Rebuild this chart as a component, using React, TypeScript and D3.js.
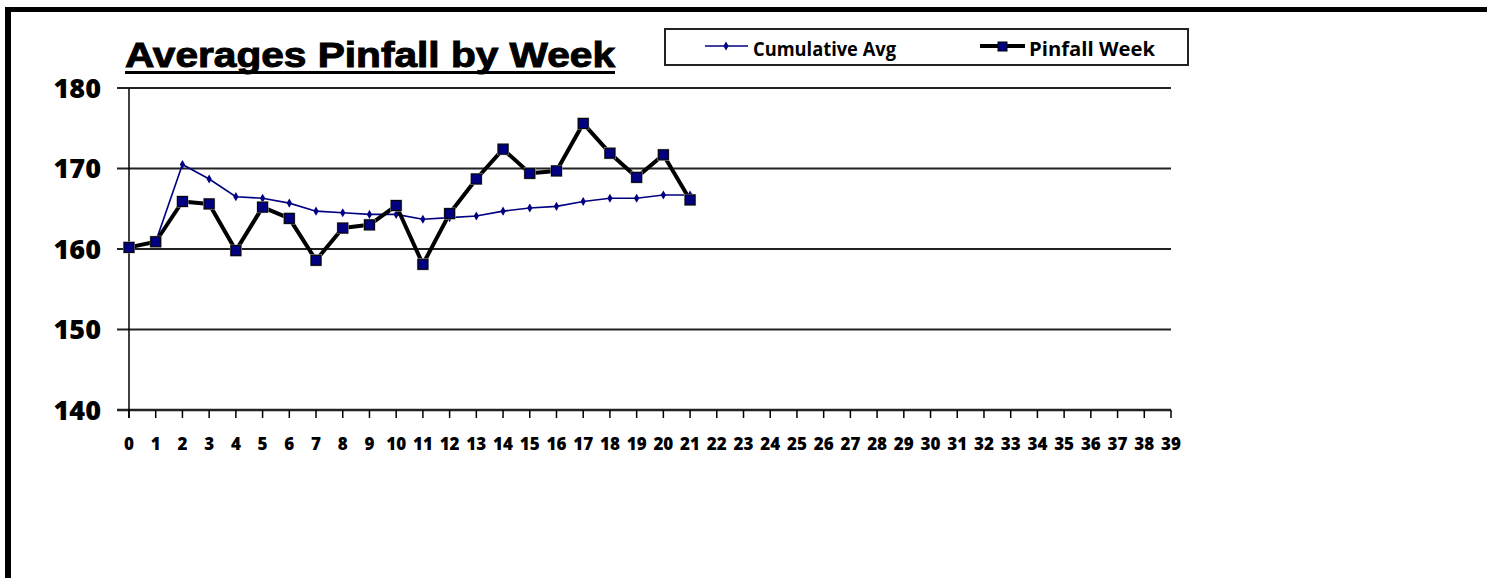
import React from 'react';
import * as d3 from 'd3';

// weekly pinfall averages
const weeks = [0, 1, 2, 3, 4, 5, 6, 7, 8, 9, 10, 11, 12, 13, 14, 15, 16, 17, 18, 19, 20, 21];
const pinfallWeek = [160.2, 160.9, 165.9, 165.6, 159.8, 165.2, 163.8, 158.6, 162.6, 163.0, 165.4, 158.1, 164.4, 168.7, 172.4, 169.4, 169.7, 175.6, 171.9, 168.9, 171.7, 166.1];
const cumulativeAvg = [160.2, 160.9, 170.5, 168.7, 166.5, 166.3, 165.7, 164.7, 164.5, 164.3, 164.3, 163.7, 163.9, 164.1, 164.7, 165.1, 165.3, 165.9, 166.3, 166.3, 166.7, 166.7];

const xTicks = [0, 1, 2, 3, 4, 5, 6, 7, 8, 9, 10, 11, 12, 13, 14, 15, 16, 17, 18, 19, 20, 21, 22, 23, 24, 25, 26, 27, 28, 29, 30, 31, 32, 33, 34, 35, 36, 37, 38, 39];
const yTicks = [140, 150, 160, 170, 180];

const W = 1487, H = 578;
const NAVY = '#000080';
const LABEL_FONT = "'Open Sans', 'Noto Sans', sans-serif";

export default function App() {
  const x = d3.scaleLinear().domain([0, 39]).range([129, 1171]);
  const y = d3.scaleLinear().domain([140, 180]).range([410, 88]);

  const line = d3.line<number>()
    .x((_, i) => x(weeks[i]))
    .y(d => y(d));

  const diamond = d3.symbol().type(d3.symbolDiamond).size(24)();

  return (
    <svg width={W} height={H} style={{ position: 'absolute', left: 0, top: 0, background: '#fff' }}>
      {/* frame */}
      <rect x={5} y={7} width={W - 5} height={5} fill="#000" />
      <rect x={5} y={7} width={6} height={H - 7} fill="#000" />

      {/* title */}
      <text x={125} y={67} fontFamily="'Liberation Sans', Arial, sans-serif" fontWeight="bold" fontSize={35}
        textLength={490} lengthAdjust="spacingAndGlyphs" stroke="#000" strokeWidth={1}>
        Averages Pinfall by Week
      </text>
      <rect x={125} y={71} width={490} height={3} fill="#000" />

      {/* gridlines + y ticks */}
      {yTicks.map(t => (
        <g key={t}>
          <line x1={117} x2={1171} y1={y(t)} y2={y(t)}
            stroke="#222" strokeWidth={t === 140 ? 2.5 : 1.8} />
          <text x={101} y={y(t)} dy="0.36em" textAnchor="end" fontFamily={LABEL_FONT}
            fontWeight={800} fontSize={27} fill="#000">{t}</text>
        </g>
      ))}
      {/* y axis */}
      <line x1={x(0)} x2={x(0)} y1={y(180)} y2={y(140) + 8} stroke="#000" strokeWidth={1.5} />

      {/* x ticks */}
      {xTicks.map(t => (
        <g key={t}>
          <line x1={x(t)} x2={x(t)} y1={y(140)} y2={y(140) + 8} stroke="#000" strokeWidth={1.5} />
          <text x={x(t)} y={450} textAnchor="middle" fontFamily={LABEL_FONT} fontWeight={800}
            fontSize={17} fill="#000">{t}</text>
        </g>
      ))}

      {/* cumulative average */}
      <path d={line(cumulativeAvg) || ''} fill="none" stroke={NAVY} strokeWidth={1.6} />
      {cumulativeAvg.map((v, i) => (
        <path key={i} d={diamond || ''} transform={`translate(${x(weeks[i])},${y(v)})`} fill={NAVY} />
      ))}

      {/* pinfall week */}
      <path d={line(pinfallWeek) || ''} fill="none" stroke="#000" strokeWidth={4} strokeLinejoin="round" />
      {pinfallWeek.map((v, i) => (
        <g key={i}>
          <rect x={x(weeks[i]) - 6} y={y(v) - 6} width={12} height={12} fill="#aaa" />
          <rect x={x(weeks[i]) - 5} y={y(v) - 5} width={10} height={10} fill={NAVY} stroke="#000" strokeWidth={1} />
        </g>
      ))}

      {/* legend */}
      <rect x={665} y={29} width={523} height={36} fill="#fff" stroke="#222" strokeWidth={2} />
      <line x1={705} x2={748} y1={46} y2={46} stroke={NAVY} strokeWidth={1.6} />
      <path d={diamond || ''} transform="translate(726,46)" fill={NAVY} />
      <text x={753} y={56} fontFamily={LABEL_FONT} fontWeight="bold" fontSize={20}
        textLength={143} lengthAdjust="spacingAndGlyphs">Cumulative Avg</text>
      <line x1={980} x2={1025} y1={46} y2={46} stroke="#000" strokeWidth={4} />
      <rect x={998} y={42} width={9} height={9} fill={NAVY} stroke="#000" strokeWidth={1} />
      <text x={1029} y={56} fontFamily={LABEL_FONT} fontWeight="bold" fontSize={20}
        textLength={126} lengthAdjust="spacingAndGlyphs">Pinfall Week</text>
    </svg>
  );
}
